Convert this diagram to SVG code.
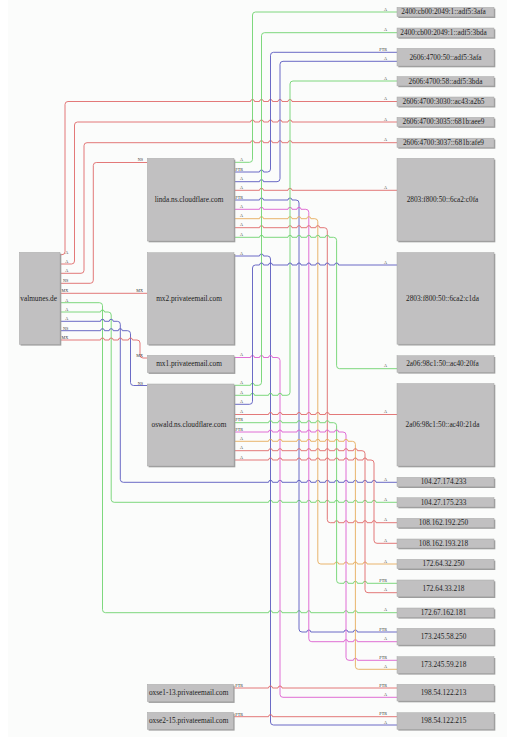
<svg xmlns="http://www.w3.org/2000/svg" width="521" height="740" viewBox="0 0 521 740">
<style>
.bx{fill:#c1c0c1;stroke:#a9a9a9;stroke-width:0.5}
.sh{fill:#9d9d9d}
.nt{font-family:"Liberation Serif","Times New Roman",serif;font-size:7.3px;fill:#222;text-anchor:middle}
.e{fill:none;stroke-width:0.9}
.r{stroke:#e06a6a}
.g{stroke:#6fd46f}
.b{stroke:#5a5ac0}
.p{stroke:#dc5fd0}
.o{stroke:#e6ad5c}
.l{font-family:"Liberation Serif","Times New Roman",serif;font-size:4.2px;fill:#333;text-anchor:end}
</style>
<rect x="0" y="0" width="521" height="740" fill="#ffffff"/>
<rect x="8" y="0" width="499" height="737" fill="#fbfcfb"/>

<g id="connectors">
<path class="e r" d="M60,254.7 H62 Q65,254.7 65,251.7 V104.5 Q65,101.5 68,101.5 H250.5 a2,2 0 0 1 4,0 H259.5 a2,2 0 0 1 4,0 H268.5 a2,2 0 0 1 4,0 H278 a2,2 0 0 1 4,0 H288 a2,2 0 0 1 4,0 H397"/>
<path class="e r" d="M60,264 H71.5 Q74.5,264 74.5,261 V125 Q74.5,122 77.5,122 H250.5 a2,2 0 0 1 4,0 H259.5 a2,2 0 0 1 4,0 H268.5 a2,2 0 0 1 4,0 H278 a2,2 0 0 1 4,0 H288 a2,2 0 0 1 4,0 H397"/>
<path class="e r" d="M60,273.3 H81 Q84,273.3 84,270.3 V145.7 Q84,142.7 87,142.7 H250.5 a2,2 0 0 1 4,0 H259.5 a2,2 0 0 1 4,0 H268.5 a2,2 0 0 1 4,0 H278 a2,2 0 0 1 4,0 H288 a2,2 0 0 1 4,0 H397"/>
<path class="e r" d="M60,283.3 H90.3 Q93.3,283.3 93.3,280.3 V165.5 Q93.3,162.5 96.3,162.5 H147.3"/>
<path class="e r" d="M60,293.3 H147.3"/>
<path class="e g" d="M60,302.7 H99.5 Q102.5,302.7 102.5,305.7 V609.7 Q102.5,612.7 105.5,612.7 H268.5 a2,2 0 0 1 4,0 H278 a2,2 0 0 1 4,0 H297 a2,2 0 0 1 4,0 H306.8 a2,2 0 0 1 4,0 H344 a2,2 0 0 1 4,0 H353.4 a2,2 0 0 1 4,0 H397"/>
<path class="e g" d="M60,312 H100.5 a2,2 0 0 1 4,0 H108.2 Q111.2,312 111.2,315 V499.3 Q111.2,502.3 114.2,502.3 H268.5 a2,2 0 0 1 4,0 H278 a2,2 0 0 1 4,0 H297 a2,2 0 0 1 4,0 H306.8 a2,2 0 0 1 4,0 H315.8 a2,2 0 0 1 4,0 H325.3 a2,2 0 0 1 4,0 H334.6 a2,2 0 0 1 4,0 H344 a2,2 0 0 1 4,0 H353.4 a2,2 0 0 1 4,0 H363 a2,2 0 0 1 4,0 H372 a2,2 0 0 1 4,0 H397"/>
<path class="e b" d="M60,321.3 H100.5 a2,2 0 0 1 4,0 H109.2 a2,2 0 0 1 4,0 H117.3 Q120.3,321.3 120.3,324.3 V479.3 Q120.3,482.3 123.3,482.3 H268.5 a2,2 0 0 1 4,0 H278 a2,2 0 0 1 4,0 H297 a2,2 0 0 1 4,0 H306.8 a2,2 0 0 1 4,0 H315.8 a2,2 0 0 1 4,0 H325.3 a2,2 0 0 1 4,0 H334.6 a2,2 0 0 1 4,0 H344 a2,2 0 0 1 4,0 H353.4 a2,2 0 0 1 4,0 H363 a2,2 0 0 1 4,0 H372 a2,2 0 0 1 4,0 H397"/>
<path class="e b" d="M60,330.7 H100.5 a2,2 0 0 1 4,0 H109.2 a2,2 0 0 1 4,0 H118.3 a2,2 0 0 1 4,0 H127.5 Q130.5,330.7 130.5,333.7 V382.5 Q130.5,385.5 133.5,385.5 H147.3"/>
<path class="e r" d="M60,340 H100.5 a2,2 0 0 1 4,0 H109.2 a2,2 0 0 1 4,0 H118.3 a2,2 0 0 1 4,0 H128.5 a2,2 0 0 1 4,0 H137 Q140,340 140,343 V355 Q140,358 143,358 H147.3"/>

<path class="e g" d="M234,162.3 H249.5 Q252.5,162.3 252.5,159.3 V15 Q252.5,12 255.5,12 H397"/>
<path class="e b" d="M234,172 H259.5 a2,2 0 0 1 4,0 H267.5 Q270.5,172 270.5,169 V55.3 Q270.5,52.3 273.5,52.3 H397"/>
<path class="e b" d="M234,181.7 H259.5 a2,2 0 0 1 4,0 H277 Q280,181.7 280,178.7 V64.3 Q280,61.3 283,61.3 H397"/>
<path class="e r" d="M234,190.3 H259.5 a2,2 0 0 1 4,0 H288 a2,2 0 0 1 4,0 H397"/>
<path class="e b" d="M234,200 H259.5 a2,2 0 0 1 4,0 H288 a2,2 0 0 1 4,0 H296 Q299,200 299,203 V629 Q299,632 302,632 H306.8 a2,2 0 0 1 4,0 H344 a2,2 0 0 1 4,0 H353.4 a2,2 0 0 1 4,0 H397"/>
<path class="e p" d="M234,209.3 H259.5 a2,2 0 0 1 4,0 H288 a2,2 0 0 1 4,0 H297 a2,2 0 0 1 4,0 H305.8 Q308.8,209.3 308.8,212.3 V638.7 Q308.8,641.7 311.8,641.7 H344 a2,2 0 0 1 4,0 H353.4 a2,2 0 0 1 4,0 H397"/>
<path class="e o" d="M234,218.7 H259.5 a2,2 0 0 1 4,0 H288 a2,2 0 0 1 4,0 H297 a2,2 0 0 1 4,0 H306.8 a2,2 0 0 1 4,0 H314.8 Q317.8,218.7 317.8,221.7 V561 Q317.8,564 320.8,564 H334.6 a2,2 0 0 1 4,0 H344 a2,2 0 0 1 4,0 H353.4 a2,2 0 0 1 4,0 H363 a2,2 0 0 1 4,0 H397"/>
<path class="e r" d="M234,227.7 H259.5 a2,2 0 0 1 4,0 H288 a2,2 0 0 1 4,0 H297 a2,2 0 0 1 4,0 H306.8 a2,2 0 0 1 4,0 H315.8 a2,2 0 0 1 4,0 H324.3 Q327.3,227.7 327.3,230.7 V519.7 Q327.3,522.7 330.3,522.7 H334.6 a2,2 0 0 1 4,0 H344 a2,2 0 0 1 4,0 H353.4 a2,2 0 0 1 4,0 H363 a2,2 0 0 1 4,0 H372 a2,2 0 0 1 4,0 H397"/>
<path class="e g" d="M234,237.3 H259.5 a2,2 0 0 1 4,0 H288 a2,2 0 0 1 4,0 H297 a2,2 0 0 1 4,0 H306.8 a2,2 0 0 1 4,0 H315.8 a2,2 0 0 1 4,0 H325.3 a2,2 0 0 1 4,0 H333.6 Q336.6,237.3 336.6,240.3 V365.7 Q336.6,368.7 339.6,368.7 H397"/>

<path class="e b" d="M234,256 H259.5 a2,2 0 0 1 4,0 H267.5 Q270.5,256 270.5,259 V722 Q270.5,725 273.5,725 H397"/>
<path class="e p" d="M234,357.5 H250.5 a2,2 0 0 1 4,0 H259.5 a2,2 0 0 1 4,0 H268.5 a2,2 0 0 1 4,0 H277 Q280,357.5 280,360.5 V694.3 Q280,697.3 283,697.3 H397"/>

<path class="e g" d="M234,385.3 H250.5 a2,2 0 0 1 4,0 H258.5 Q261.5,385.3 261.5,382.3 V35.7 Q261.5,32.7 264.5,32.7 H397"/>
<path class="e g" d="M234,395.3 H250.5 a2,2 0 0 1 4,0 H268.5 a2,2 0 0 1 4,0 H278 a2,2 0 0 1 4,0 H287 Q290,395.3 290,392.3 V84 Q290,81 293,81 H397"/>
<path class="e b" d="M234,404.3 H249.5 Q252.5,404.3 252.5,401.3 V268 Q252.5,265 255.5,265 H259.5 a2,2 0 0 1 4,0 H268.5 a2,2 0 0 1 4,0 H288 a2,2 0 0 1 4,0 H297 a2,2 0 0 1 4,0 H306.8 a2,2 0 0 1 4,0 H315.8 a2,2 0 0 1 4,0 H325.3 a2,2 0 0 1 4,0 H334.6 a2,2 0 0 1 4,0 H397"/>
<path class="e r" d="M234,414.5 H268.5 a2,2 0 0 1 4,0 H278 a2,2 0 0 1 4,0 H297 a2,2 0 0 1 4,0 H306.8 a2,2 0 0 1 4,0 H315.8 a2,2 0 0 1 4,0 H325.3 a2,2 0 0 1 4,0 H397"/>
<path class="e g" d="M234,422.7 H268.5 a2,2 0 0 1 4,0 H278 a2,2 0 0 1 4,0 H297 a2,2 0 0 1 4,0 H306.8 a2,2 0 0 1 4,0 H315.8 a2,2 0 0 1 4,0 H325.3 a2,2 0 0 1 4,0 H333.6 Q336.6,422.7 336.6,425.7 V580.3 Q336.6,583.3 339.6,583.3 H344 a2,2 0 0 1 4,0 H353.4 a2,2 0 0 1 4,0 H363 a2,2 0 0 1 4,0 H397"/>
<path class="e p" d="M234,432 H268.5 a2,2 0 0 1 4,0 H278 a2,2 0 0 1 4,0 H297 a2,2 0 0 1 4,0 H306.8 a2,2 0 0 1 4,0 H315.8 a2,2 0 0 1 4,0 H325.3 a2,2 0 0 1 4,0 H334.6 a2,2 0 0 1 4,0 H343 Q346,432 346,435 V657.3 Q346,660.3 349,660.3 H353.4 a2,2 0 0 1 4,0 H397"/>
<path class="e o" d="M234,441.3 H268.5 a2,2 0 0 1 4,0 H278 a2,2 0 0 1 4,0 H297 a2,2 0 0 1 4,0 H306.8 a2,2 0 0 1 4,0 H315.8 a2,2 0 0 1 4,0 H325.3 a2,2 0 0 1 4,0 H334.6 a2,2 0 0 1 4,0 H344 a2,2 0 0 1 4,0 H352.4 Q355.4,441.3 355.4,444.3 V666.3 Q355.4,669.3 358.4,669.3 H397"/>
<path class="e r" d="M234,450.7 H268.5 a2,2 0 0 1 4,0 H278 a2,2 0 0 1 4,0 H297 a2,2 0 0 1 4,0 H306.8 a2,2 0 0 1 4,0 H315.8 a2,2 0 0 1 4,0 H325.3 a2,2 0 0 1 4,0 H334.6 a2,2 0 0 1 4,0 H344 a2,2 0 0 1 4,0 H353.4 a2,2 0 0 1 4,0 H362 Q365,450.7 365,453.7 V589.7 Q365,592.7 368,592.7 H397"/>
<path class="e r" d="M234,460 H268.5 a2,2 0 0 1 4,0 H278 a2,2 0 0 1 4,0 H297 a2,2 0 0 1 4,0 H306.8 a2,2 0 0 1 4,0 H315.8 a2,2 0 0 1 4,0 H325.3 a2,2 0 0 1 4,0 H334.6 a2,2 0 0 1 4,0 H344 a2,2 0 0 1 4,0 H353.4 a2,2 0 0 1 4,0 H363 a2,2 0 0 1 4,0 H371 Q374,460 374,463 V540.3 Q374,543.3 377,543.3 H397"/>

<path class="e r" d="M233.3,688 H268.5 a2,2 0 0 1 4,0 H278 a2,2 0 0 1 4,0 H397"/>
<path class="e r" d="M233.3,716.7 H268.5 a2,2 0 0 1 4,0 H397"/>
</g>

<g id="edge-labels">
<text class="l" x="68.3" y="253.7">A</text>
<text class="l" x="68.3" y="263">A</text>
<text class="l" x="68.3" y="272.3">A</text>
<text class="l" x="68.3" y="282.3">NS</text>
<text class="l" x="68.3" y="292.3">MX</text>
<text class="l" x="68.3" y="301.7">A</text>
<text class="l" x="68.3" y="311">A</text>
<text class="l" x="68.3" y="320.3">A</text>
<text class="l" x="68.3" y="329.7">NS</text>
<text class="l" x="68.3" y="339">MX</text>
<text class="l" x="143" y="160.8">NS</text>
<text class="l" x="143" y="292.3">MX</text>
<text class="l" x="143" y="357">MX</text>
<text class="l" x="143" y="384.5">NS</text>
<text class="l" x="243" y="160.8">A</text>
<text class="l" x="243" y="170.5">PTR</text>
<text class="l" x="243" y="180.2">A</text>
<text class="l" x="243" y="188.8">A</text>
<text class="l" x="243" y="198.5">PTR</text>
<text class="l" x="243" y="207.8">A</text>
<text class="l" x="243" y="217.2">A</text>
<text class="l" x="243" y="226.2">A</text>
<text class="l" x="243" y="235.8">A</text>
<text class="l" x="243" y="254.5">A</text>
<text class="l" x="243" y="356">A</text>
<text class="l" x="243" y="383.8">A</text>
<text class="l" x="243" y="393.8">A</text>
<text class="l" x="243" y="402.8">A</text>
<text class="l" x="243" y="413">A</text>
<text class="l" x="243" y="421.2">PTR</text>
<text class="l" x="243" y="430.5">PTR</text>
<text class="l" x="243" y="439.8">A</text>
<text class="l" x="243" y="449.2">A</text>
<text class="l" x="243" y="458.5">A</text>
<text class="l" x="243" y="686.8">PTR</text>
<text class="l" x="243" y="715.5">PTR</text>
<text class="l" x="387" y="10.5">A</text>
<text class="l" x="387" y="31.2">A</text>
<text class="l" x="387" y="50.8">PTR</text>
<text class="l" x="387" y="59.8">A</text>
<text class="l" x="387" y="79.5">A</text>
<text class="l" x="387" y="100">A</text>
<text class="l" x="387" y="120.5">A</text>
<text class="l" x="387" y="141.2">A</text>
<text class="l" x="387" y="188.8">A</text>
<text class="l" x="387" y="263.5">A</text>
<text class="l" x="387" y="367.2">A</text>
<text class="l" x="387" y="413">A</text>
<text class="l" x="387" y="480.8">A</text>
<text class="l" x="387" y="500.8">A</text>
<text class="l" x="387" y="521.2">A</text>
<text class="l" x="387" y="541.8">A</text>
<text class="l" x="387" y="562.5">A</text>
<text class="l" x="387" y="581.8">PTR</text>
<text class="l" x="387" y="591.2">A</text>
<text class="l" x="387" y="611.2">A</text>
<text class="l" x="387" y="630.5">PTR</text>
<text class="l" x="387" y="640.2">A</text>
<text class="l" x="387" y="658.8">PTR</text>
<text class="l" x="387" y="667.8">A</text>
<text class="l" x="387" y="686.5">PTR</text>
<text class="l" x="387" y="695.8">A</text>
<text class="l" x="387" y="715.2">PTR</text>
<text class="l" x="387" y="723.5">A</text>
</g>

<g id="valmunes.de"><rect class="sh" x="20.6" y="253.6" width="40.7" height="92"/><rect class="bx" x="19.3" y="252.3" width="40.7" height="92"/><text class="nt" x="38.6" y="300.7">valmunes.de</text></g>
<g id="linda.ns.cloudflare.com"><rect class="sh" x="148.6" y="159.6" width="86.7" height="82.7"/><rect class="bx" x="147.3" y="158.3" width="86.7" height="82.7"/><text class="nt" x="189" y="202.1">linda.ns.cloudflare.com</text></g>
<g id="mx2.privateemail.com"><rect class="sh" x="148.6" y="254" width="86.7" height="91.6"/><rect class="bx" x="147.3" y="252.7" width="86.7" height="91.6"/><text class="nt" x="189" y="300.9">mx2.privateemail.com</text></g>
<g id="mx1.privateemail.com"><rect class="sh" x="148.6" y="356.6" width="86.7" height="17.3"/><rect class="bx" x="147.3" y="355.3" width="86.7" height="17.3"/><text class="nt" x="189" y="366.4">mx1.privateemail.com</text></g>
<g id="oswald.ns.cloudflare.com"><rect class="sh" x="148.6" y="385.3" width="86.7" height="82"/><rect class="bx" x="147.3" y="384" width="86.7" height="82"/><text class="nt" x="189" y="427.4">oswald.ns.cloudflare.com</text></g>
<g id="oxse1-13.privateemail.com"><rect class="sh" x="148.6" y="685.6" width="86" height="17.3"/><rect class="bx" x="147.3" y="684.3" width="86" height="17.3"/><text class="nt" x="188.7" y="695.4">oxse1-13.privateemail.com</text></g>
<g id="oxse2-15.privateemail.com"><rect class="sh" x="148.6" y="713.6" width="86" height="17"/><rect class="bx" x="147.3" y="712.3" width="86" height="17"/><text class="nt" x="188.7" y="723.2">oxse2-15.privateemail.com</text></g>

<g id="n2400-3afa"><rect class="sh" x="398.3" y="8.6" width="97" height="9.4"/><rect class="bx" x="397" y="7.3" width="97" height="9.4"/><text class="nt" x="443.5" y="14.4">2400:cb00:2049:1::adf5:3afa</text></g>
<g id="n2400-3bda"><rect class="sh" x="398.3" y="29.3" width="97" height="9.4"/><rect class="bx" x="397" y="28" width="97" height="9.4"/><text class="nt" x="443.5" y="35.1">2400:cb00:2049:1::adf5:3bda</text></g>
<g id="n2606-50"><rect class="sh" x="398.3" y="49.6" width="97" height="17.7"/><rect class="bx" x="397" y="48.3" width="97" height="17.7"/><text class="nt" x="445.5" y="59.6">2606:4700:50::adf5:3afa</text></g>
<g id="n2606-58"><rect class="sh" x="398.3" y="77.8" width="97" height="9.4"/><rect class="bx" x="397" y="76.5" width="97" height="9.4"/><text class="nt" x="445.5" y="83.6">2606:4700:58::adf5:3bda</text></g>
<g id="n2606-3030"><rect class="sh" x="398.3" y="98.3" width="97" height="9.2"/><rect class="bx" x="397" y="97" width="97" height="9.2"/><text class="nt" x="443.5" y="104">2606:4700:3030::ac43:a2b5</text></g>
<g id="n2606-3035"><rect class="sh" x="398.3" y="118.6" width="97" height="9.2"/><rect class="bx" x="397" y="117.3" width="97" height="9.2"/><text class="nt" x="443.5" y="124.3">2606:4700:3035::681b:aee9</text></g>
<g id="n2606-3037"><rect class="sh" x="398.3" y="139.5" width="97" height="9.2"/><rect class="bx" x="397" y="138.2" width="97" height="9.2"/><text class="nt" x="443.5" y="145.2">2606:4700:3037::681b:afe9</text></g>
<g id="n2803-c0fa"><rect class="sh" x="398.3" y="159.6" width="97" height="82.7"/><rect class="bx" x="397" y="158.3" width="97" height="82.7"/><text class="nt" x="442.5" y="202.1">2803:f800:50::6ca2:c0fa</text></g>
<g id="n2803-c1da"><rect class="sh" x="398.3" y="253.8" width="97" height="91.7"/><rect class="bx" x="397" y="252.5" width="97" height="91.7"/><text class="nt" x="442.5" y="300.7">2803:f800:50::6ca2:c1da</text></g>
<g id="n2a06-20fa"><rect class="sh" x="398.3" y="357" width="97" height="16.6"/><rect class="bx" x="397" y="355.7" width="97" height="16.6"/><text class="nt" x="442.5" y="366.4">2a06:98c1:50::ac40:20fa</text></g>
<g id="n2a06-21da"><rect class="sh" x="398.3" y="384.8" width="97" height="82.5"/><rect class="bx" x="397" y="383.5" width="97" height="82.5"/><text class="nt" x="442.5" y="427.1">2a06:98c1:50::ac40:21da</text></g>
<g id="n104-27-174-233"><rect class="sh" x="398.3" y="478.6" width="97" height="9.4"/><rect class="bx" x="397" y="477.3" width="97" height="9.4"/><text class="nt" x="443.5" y="484.4">104.27.174.233</text></g>
<g id="n104-27-175-233"><rect class="sh" x="398.3" y="499" width="97" height="9.3"/><rect class="bx" x="397" y="497.7" width="97" height="9.3"/><text class="nt" x="443.5" y="504.7">104.27.175.233</text></g>
<g id="n108-162-192-250"><rect class="sh" x="398.3" y="519.6" width="97" height="9.2"/><rect class="bx" x="397" y="518.3" width="97" height="9.2"/><text class="nt" x="443.5" y="525.2">108.162.192.250</text></g>
<g id="n108-162-193-218"><rect class="sh" x="398.3" y="540.3" width="97" height="9"/><rect class="bx" x="397" y="539" width="97" height="9"/><text class="nt" x="443.5" y="545.8">108.162.193.218</text></g>
<g id="n172-64-32-250"><rect class="sh" x="398.3" y="560.6" width="97" height="9.4"/><rect class="bx" x="397" y="559.3" width="97" height="9.4"/><text class="nt" x="443.5" y="566.4">172.64.32.250</text></g>
<g id="n172-64-33-218"><rect class="sh" x="398.3" y="581.3" width="97" height="16.7"/><rect class="bx" x="397" y="580" width="97" height="16.7"/><text class="nt" x="443.5" y="590.7">172.64.33.218</text></g>
<g id="n172-67-162-181"><rect class="sh" x="398.3" y="609.3" width="97" height="9.3"/><rect class="bx" x="397" y="608" width="97" height="9.3"/><text class="nt" x="443.5" y="615.1">172.67.162.181</text></g>
<g id="n173-245-58-250"><rect class="sh" x="398.3" y="629.6" width="97" height="16.7"/><rect class="bx" x="397" y="628.3" width="97" height="16.7"/><text class="nt" x="443.5" y="639">173.245.58.250</text></g>
<g id="n173-245-59-218"><rect class="sh" x="398.3" y="658" width="97" height="16.6"/><rect class="bx" x="397" y="656.7" width="97" height="16.6"/><text class="nt" x="443.5" y="667.4">173.245.59.218</text></g>
<g id="n198-54-122-213"><rect class="sh" x="398.3" y="685.6" width="97" height="16.7"/><rect class="bx" x="397" y="684.3" width="97" height="16.7"/><text class="nt" x="443.5" y="695">198.54.122.213</text></g>
<g id="n198-54-122-215"><rect class="sh" x="398.3" y="714" width="97" height="16.6"/><rect class="bx" x="397" y="712.7" width="97" height="16.6"/><text class="nt" x="443.5" y="723.4">198.54.122.215</text></g>
</svg>
